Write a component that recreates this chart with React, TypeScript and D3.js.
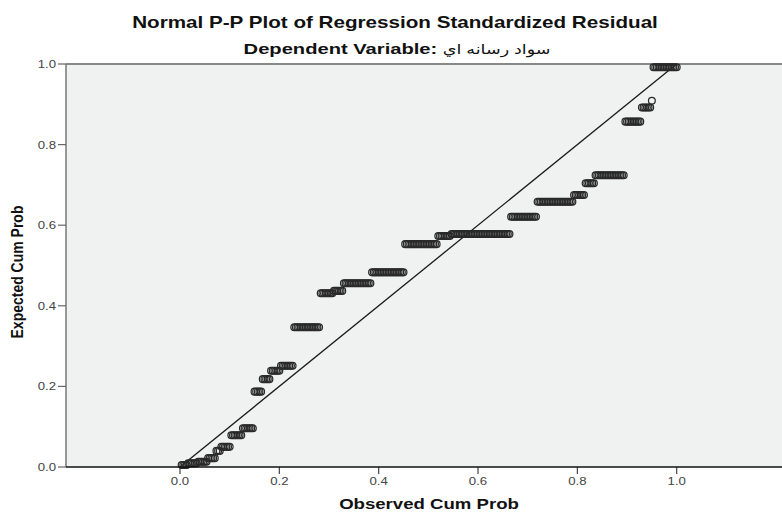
import React from "react";
import * as d3 from "d3";

// Expected cumulative probability of each tied group of residuals (bottom to top)
const expectedCumProb = [
  0.005, 0.009, 0.013, 0.022, 0.04, 0.05, 0.079, 0.096, 0.187, 0.218, 0.239,
  0.251, 0.347, 0.431, 0.437, 0.456, 0.483, 0.553, 0.573, 0.578, 0.621, 0.658,
  0.675, 0.704, 0.724, 0.857, 0.892, 0.909, 0.992,
];
// Number of cases sharing each expected value (ties)
const tieCounts = [
  4, 6, 6, 5, 3, 6, 7, 7, 5, 5, 6, 8, 16, 8, 6, 17, 20, 20, 8, 36, 16, 22, 7, 6,
  18, 10, 6, 1, 15,
];
const xTicks = [0.0, 0.2, 0.4, 0.6, 0.8, 1.0];
const yTicks = [0.0, 0.2, 0.4, 0.6, 0.8, 1.0];

const W = 782;
const H = 512;
const plotLeft = 66;
const plotTop = 64;
const plotBottom = 467;
const plotRight = 782;
const SX = 1.2; // horizontal stretch of text in the reference
const FONT = "'Liberation Sans', Arial, 'DejaVu Sans', sans-serif";

export default function App() {
  const x = d3.scaleLinear().domain([0, 1]).range([180, 676.7]);
  const y = d3.scaleLinear().domain([0, 1]).range([plotBottom, plotTop]);

  const n = d3.sum(tieCounts);
  const points: { ox: number; ey: number }[] = [];
  let rank = 0;
  tieCounts.forEach((c, gi) => {
    for (let k = 0; k < c; k++) {
      rank += 1;
      points.push({ ox: rank / n, ey: expectedCumProb[gi] });
    }
  });

  const line = d3.line<[number, number]>()
    .x((d) => x(d[0]))
    .y((d) => y(d[1]));

  return (
    <svg
      width={W}
      height={H}
      style={{ position: "absolute", left: 0, top: 0, display: "block", background: "#fff" }}
      fontFamily={FONT}
    >
      {/* Titles */}
      <text
        transform={`translate(395,28) scale(1.29,1)`}
        textAnchor="middle"
        fontSize={16}
        fontWeight="bold"
        fill="#111"
      >
        Normal P-P Plot of Regression Standardized Residual
      </text>
      <text
        transform={`translate(397,54) scale(1.3,1)`}
        textAnchor="middle"
        fontSize={15.5}
        fontWeight="bold"
        fill="#111"
      >
        Dependent Variable: <tspan fontWeight="normal" fontSize={13.5}>سواد رسانه اي</tspan>
      </text>

      {/* Plot background */}
      <rect
        x={plotLeft}
        y={plotTop}
        width={plotRight - plotLeft}
        height={plotBottom - plotTop}
        fill="#f0f1f1"
      />
      {/* top border */}
      <line x1={plotLeft} x2={plotRight} y1={plotTop} y2={plotTop} stroke="#888" strokeWidth={2} />
      {/* left axis */}
      <line x1={plotLeft} x2={plotLeft} y1={plotTop} y2={plotBottom} stroke="#777" strokeWidth={1.5} />

      {/* Y ticks */}
      {yTicks.map((t) => (
        <g key={"y" + t}>
          <line x1={plotLeft - 8} x2={plotLeft} y1={y(t)} y2={y(t)} stroke="#666" strokeWidth={1.2} />
          <text
            transform={`translate(${plotLeft - 10},${y(t) + 4}) scale(${SX},1)`}
            textAnchor="end"
            fontSize={11}
            fill="#444"
          >
            {t.toFixed(1)}
          </text>
        </g>
      ))}

      {/* X ticks */}
      {xTicks.map((t) => (
        <g key={"x" + t}>
          <line x1={x(t)} x2={x(t)} y1={plotBottom} y2={plotBottom + 7} stroke="#444" strokeWidth={1.2} />
          <text
            transform={`translate(${x(t)},${plotBottom + 18}) scale(${SX},1)`}
            textAnchor="middle"
            fontSize={11}
            fill="#444"
          >
            {t.toFixed(1)}
          </text>
        </g>
      ))}

      {/* Reference diagonal */}
      <path
        d={line([[0, 0], [1, 1]]) || ""}
        stroke="#1a1a1a"
        strokeWidth={1.3}
        fill="none"
      />

      {/* Points */}
      {points.map((p, i) => (
        <circle
          key={i}
          cx={x(p.ox)}
          cy={y(p.ey)}
          r={3.4}
          fill="none"
          stroke="#2a2a2a"
          strokeWidth={1.25}
        />
      ))}

      {/* bottom axis line */}
      <line x1={plotLeft} x2={plotRight} y1={plotBottom} y2={plotBottom} stroke="#111" strokeWidth={1.5} />

      {/* Axis titles */}
      <text
        transform={`translate(429,509) scale(${SX},1)`}
        textAnchor="middle"
        fontSize={15.5}
        fontWeight="bold"
        fill="#111"
      >
        Observed Cum Prob
      </text>
      <text
        transform={`translate(23,272) scale(${SX},1) rotate(-90)`}
        textAnchor="middle"
        fontSize={14}
        fontWeight="bold"
        fill="#111"
      >
        Expected Cum Prob
      </text>
    </svg>
  );
}
